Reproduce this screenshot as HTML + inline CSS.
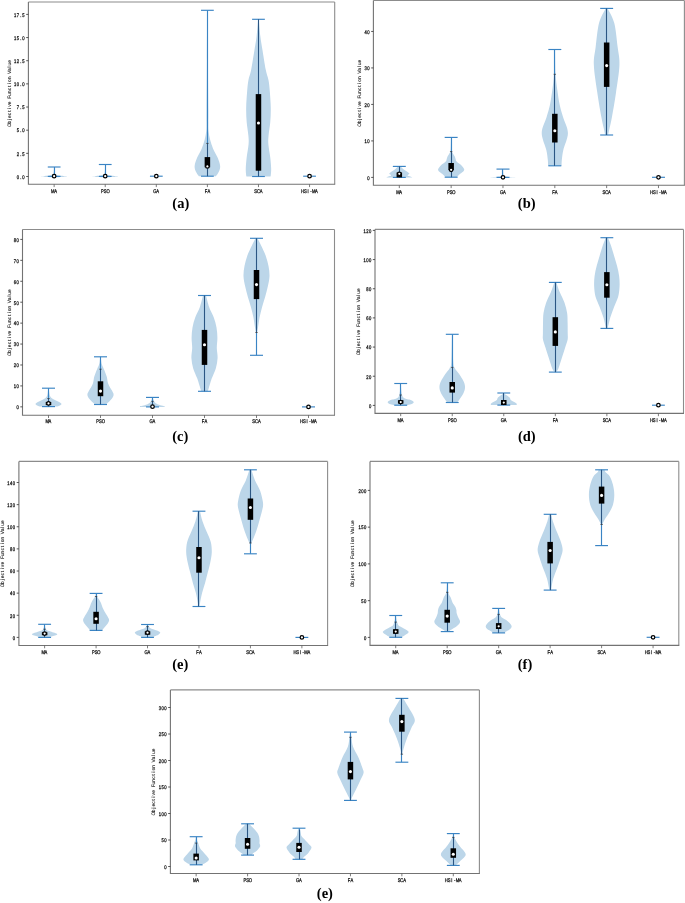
<!DOCTYPE html>
<html><head><meta charset="utf-8"><title>Violin plots</title>
<style>
html,body{margin:0;padding:0;background:#fff;}
body{width:685px;height:903px;overflow:hidden;}
svg{display:block;will-change:transform;}
.tk{text-rendering:geometricPrecision;font-family:"Liberation Sans",sans-serif;font-size:5.3px;fill:#1a1a1a;stroke:#1a1a1a;stroke-width:0.3px;}
.yl{text-rendering:geometricPrecision;font-family:"Liberation Sans",sans-serif;font-size:4.9px;fill:#1a1a1a;stroke:#222;stroke-width:0.12px;}
.pl{font-family:"Liberation Serif",serif;font-weight:bold;font-size:14.5px;fill:#000;}
</style></head>
<body>
<svg width="685" height="903" viewBox="0 0 685 903">
<rect width="685" height="903" fill="#fff"/>
<g id="pa">
<path d="M54.35 167 C54.4 167.83 54.45 170.78 54.65 172 C54.85 173.22 54.97 173.75 55.55 174.3 C56.13 174.85 56.8 175.02 58.15 175.3 C59.5 175.58 62.18 175.8 63.65 176 C65.12 176.2 67.37 176.32 66.95 176.5 C66.53 176.68 62.78 176.97 61.15 177.1 C59.52 177.23 57.82 177.27 57.15 177.3 L51.15 177.3 C50.48 177.27 48.78 177.23 47.15 177.1 C45.52 176.97 41.77 176.68 41.35 176.5 C40.93 176.32 43.18 176.2 44.65 176 C46.12 175.8 48.8 175.58 50.15 175.3 C51.5 175.02 52.17 174.85 52.75 174.3 C53.33 173.75 53.45 173.22 53.65 172 C53.85 170.78 53.9 167.83 53.95 167 Z" fill="#bcd6e9"/>
<path d="M105.43 164.5 C105.46 165.58 105.45 169.37 105.63 171 C105.81 172.63 105.96 173.58 106.53 174.3 C107.1 175.02 107.75 175.02 109.03 175.3 C110.31 175.58 112.73 175.8 114.23 176 C115.73 176.2 118.36 176.32 118.03 176.5 C117.7 176.68 113.86 176.97 112.23 177.1 C110.6 177.23 108.9 177.27 108.23 177.3 L102.23 177.3 C101.56 177.27 99.86 177.23 98.23 177.1 C96.6 176.97 92.76 176.68 92.43 176.5 C92.1 176.32 94.73 176.2 96.23 176 C97.73 175.8 100.15 175.58 101.43 175.3 C102.71 175.02 103.36 175.02 103.93 174.3 C104.5 173.58 104.65 172.63 104.83 171 C105.01 169.37 105 165.58 105.03 164.5 Z" fill="#bcd6e9"/>
<path d="M207.59 10.3 C207.64 18.58 207.77 43.38 207.89 60 C208.01 76.62 208.22 99.67 208.29 110 C208.36 120.33 208.26 118.5 208.29 122 C208.32 125.5 208.17 128 208.49 131 C208.81 134 209.42 137.05 210.19 140 C210.96 142.95 211.86 145.77 213.09 148.7 C214.32 151.63 216.41 154.65 217.59 157.6 C218.77 160.55 220.06 163.9 220.19 166.4 C220.32 168.9 219.04 171.05 218.39 172.6 C217.74 174.15 216.71 175.1 216.29 175.7 C215.87 176.3 215.96 176.12 215.89 176.2 L198.89 176.2 C198.82 176.12 198.91 176.3 198.49 175.7 C198.07 175.1 197.04 174.15 196.39 172.6 C195.74 171.05 194.46 168.9 194.59 166.4 C194.72 163.9 196.01 160.55 197.19 157.6 C198.37 154.65 200.46 151.63 201.69 148.7 C202.92 145.77 203.82 142.95 204.59 140 C205.36 137.05 205.97 134 206.29 131 C206.61 128 206.46 125.5 206.49 122 C206.52 118.5 206.42 120.33 206.49 110 C206.56 99.67 206.77 76.62 206.89 60 C207.01 43.38 207.14 18.58 207.19 10.3 Z" fill="#bcd6e9"/>
<path d="M258.77 19.3 C259.04 22.18 259.75 31.48 260.37 36.6 C260.99 41.72 261.57 44.47 262.47 50 C263.37 55.53 264.77 64.8 265.77 69.8 C266.77 74.8 267.8 76.47 268.47 80 C269.14 83.53 269.39 86.38 269.77 91 C270.15 95.62 270.69 102.53 270.77 107.7 C270.85 112.87 270.64 117.38 270.27 122 C269.9 126.62 268.89 131.68 268.57 135.4 C268.25 139.12 268.09 140.6 268.37 144.3 C268.65 148 269.8 153.53 270.27 157.6 C270.74 161.67 271.09 165.75 271.17 168.7 C271.25 171.65 270.89 174 270.77 175.3 C270.65 176.6 270.52 176.3 270.47 176.5 L246.47 176.5 C246.42 176.3 246.29 176.6 246.17 175.3 C246.05 174 245.69 171.65 245.77 168.7 C245.85 165.75 246.2 161.67 246.67 157.6 C247.14 153.53 248.29 148 248.57 144.3 C248.85 140.6 248.69 139.12 248.37 135.4 C248.05 131.68 247.04 126.62 246.67 122 C246.3 117.38 246.09 112.87 246.17 107.7 C246.25 102.53 246.79 95.62 247.17 91 C247.55 86.38 247.8 83.53 248.47 80 C249.14 76.47 250.17 74.8 251.17 69.8 C252.17 64.8 253.57 55.53 254.47 50 C255.37 44.47 255.95 41.72 256.57 36.6 C257.19 31.48 257.9 22.18 258.17 19.3 Z" fill="#bcd6e9"/>
<line x1="54.5" y1="167" x2="54.5" y2="176.4" stroke="#3a84c4" stroke-width="1.15"/>
<line x1="47.77" y1="167" x2="60.53" y2="167" stroke="#3a84c4" stroke-width="1.15"/>
<line x1="47.77" y1="176.4" x2="60.53" y2="176.4" stroke="#3a84c4" stroke-width="1.15"/>
<circle cx="54.15" cy="176.2" r="1.75" fill="#fff" stroke="#000" stroke-width="1.25"/>
<line x1="105.5" y1="164.5" x2="105.5" y2="176.4" stroke="#3a84c4" stroke-width="1.15"/>
<line x1="98.85" y1="164.5" x2="111.61" y2="164.5" stroke="#3a84c4" stroke-width="1.15"/>
<line x1="98.85" y1="176.4" x2="111.61" y2="176.4" stroke="#3a84c4" stroke-width="1.15"/>
<circle cx="105.23" cy="176.2" r="1.75" fill="#fff" stroke="#000" stroke-width="1.25"/>
<line x1="149.93" y1="176.2" x2="162.69" y2="176.2" stroke="#3a84c4" stroke-width="1.15"/>
<circle cx="156.31" cy="176.2" r="1.75" fill="#fff" stroke="#000" stroke-width="1.25"/>
<line x1="207.5" y1="10.3" x2="207.5" y2="176.2" stroke="#3a84c4" stroke-width="1.15"/>
<line x1="201.01" y1="10.3" x2="213.77" y2="10.3" stroke="#3a84c4" stroke-width="1.15"/>
<line x1="201.01" y1="176.2" x2="213.77" y2="176.2" stroke="#3a84c4" stroke-width="1.15"/>
<line x1="207.5" y1="143.4" x2="207.5" y2="176.2" stroke="#29507a" stroke-width="0.9"/>
<line x1="206.19" y1="143.4" x2="208.59" y2="143.4" stroke="#333" stroke-width="0.7"/>
<rect x="204.64" y="157.1" width="5.5" height="10.2" fill="#000"/>
<circle cx="207.39" cy="166.4" r="1.75" fill="#fff" stroke="#000" stroke-width="1.25"/>
<line x1="258.5" y1="19.3" x2="258.5" y2="176.5" stroke="#3a84c4" stroke-width="1.15"/>
<line x1="252.09" y1="19.3" x2="264.85" y2="19.3" stroke="#3a84c4" stroke-width="1.15"/>
<line x1="252.09" y1="176.5" x2="264.85" y2="176.5" stroke="#3a84c4" stroke-width="1.15"/>
<line x1="258.5" y1="19.3" x2="258.5" y2="176.5" stroke="#29507a" stroke-width="0.9"/>
<rect x="255.72" y="94.1" width="5.5" height="76.6" fill="#000"/>
<circle cx="258.47" cy="123" r="1.55" fill="#fff"/>
<line x1="303.17" y1="176.2" x2="315.93" y2="176.2" stroke="#3a84c4" stroke-width="1.15"/>
<circle cx="309.55" cy="176.2" r="1.75" fill="#fff" stroke="#000" stroke-width="1.25"/>
<path d="M28.4 2H334.7" stroke="#8c8c8c" stroke-width="1.1" fill="none"/>
<path d="M334.7 2V184.3" stroke="#8c8c8c" stroke-width="1.1" fill="none"/>
<path d="M28.4 2V184.3H335.2" stroke="#737373" stroke-width="1.1" fill="none"/>
<line x1="26.2" y1="176.5" x2="28.4" y2="176.5" stroke="#444" stroke-width="0.9"/>
<text class="tk" text-anchor="middle" transform="translate(17.95 178.8) scale(0.78 1)" x="0 3.56 7.13" y="0">0.0</text>
<line x1="26.2" y1="153.34" x2="28.4" y2="153.34" stroke="#444" stroke-width="0.9"/>
<text class="tk" text-anchor="middle" transform="translate(17.95 155.64) scale(0.78 1)" x="0 3.56 7.13" y="0">2.5</text>
<line x1="26.2" y1="130.19" x2="28.4" y2="130.19" stroke="#444" stroke-width="0.9"/>
<text class="tk" text-anchor="middle" transform="translate(17.95 132.49) scale(0.78 1)" x="0 3.56 7.13" y="0">5.0</text>
<line x1="26.2" y1="107.03" x2="28.4" y2="107.03" stroke="#444" stroke-width="0.9"/>
<text class="tk" text-anchor="middle" transform="translate(17.95 109.33) scale(0.78 1)" x="0 3.56 7.13" y="0">7.5</text>
<line x1="26.2" y1="83.87" x2="28.4" y2="83.87" stroke="#444" stroke-width="0.9"/>
<text class="tk" text-anchor="middle" transform="translate(15.17 86.17) scale(0.78 1)" x="0 3.56 7.13 10.69" y="0">10.0</text>
<line x1="26.2" y1="60.71" x2="28.4" y2="60.71" stroke="#444" stroke-width="0.9"/>
<text class="tk" text-anchor="middle" transform="translate(15.17 63.01) scale(0.78 1)" x="0 3.56 7.13 10.69" y="0">12.5</text>
<line x1="26.2" y1="37.56" x2="28.4" y2="37.56" stroke="#444" stroke-width="0.9"/>
<text class="tk" text-anchor="middle" transform="translate(15.17 39.86) scale(0.78 1)" x="0 3.56 7.13 10.69" y="0">15.0</text>
<line x1="26.2" y1="14.4" x2="28.4" y2="14.4" stroke="#444" stroke-width="0.9"/>
<text class="tk" text-anchor="middle" transform="translate(15.17 16.7) scale(0.78 1)" x="0 3.56 7.13 10.69" y="0">17.5</text>
<line x1="54.15" y1="184.3" x2="54.15" y2="187.1" stroke="#5a5a5a" stroke-width="0.8"/>
<text class="tk" text-anchor="middle" transform="translate(52.76 192.5) scale(0.78 1)" x="0 3.56" y="0">MA</text>
<line x1="105.23" y1="184.3" x2="105.23" y2="187.1" stroke="#5a5a5a" stroke-width="0.8"/>
<text class="tk" text-anchor="middle" transform="translate(102.45 192.5) scale(0.78 1)" x="0 3.56 7.13" y="0">PSO</text>
<line x1="156.31" y1="184.3" x2="156.31" y2="187.1" stroke="#5a5a5a" stroke-width="0.8"/>
<text class="tk" text-anchor="middle" transform="translate(154.92 192.5) scale(0.78 1)" x="0 3.56" y="0">GA</text>
<line x1="207.39" y1="184.3" x2="207.39" y2="187.1" stroke="#5a5a5a" stroke-width="0.8"/>
<text class="tk" text-anchor="middle" transform="translate(206 192.5) scale(0.78 1)" x="0 3.56" y="0">FA</text>
<line x1="258.47" y1="184.3" x2="258.47" y2="187.1" stroke="#5a5a5a" stroke-width="0.8"/>
<text class="tk" text-anchor="middle" transform="translate(255.69 192.5) scale(0.78 1)" x="0 3.56 7.13" y="0">SCA</text>
<line x1="309.55" y1="184.3" x2="309.55" y2="187.1" stroke="#5a5a5a" stroke-width="0.8"/>
<text class="tk" text-anchor="middle" transform="translate(302.6 192.5) scale(0.78 1)" x="0 3.56 7.13 10.69 14.26 17.82" y="0">HSI-MA</text>
<g transform="translate(10.9 93.15) rotate(-90)">
<text class="yl" text-anchor="middle" transform="translate(-31.86 0) scale(1 1)" x="0 2.77 5.54 8.31 11.08 13.85 16.62 19.39 22.16 27.7 30.47 33.24 36.01 38.78 41.55 44.32 47.09 52.63 55.4 58.17 60.94 63.71" y="0">ObjectiveFunctionValue</text>
</g>
<text x="180.8" y="208.3" class="pl" text-anchor="middle">(a)</text>
</g>
<g id="pb">
<path d="M399.82 166.4 C399.98 166.45 400.15 166.17 400.82 166.7 C401.48 167.23 402.58 168.63 403.82 169.6 C405.05 170.57 407.3 171.82 408.22 172.5 C409.13 173.18 409.43 173.22 409.32 173.7 C409.2 174.18 407.35 174.93 407.52 175.4 C407.68 175.87 409.52 176.17 410.32 176.5 C411.12 176.83 411.98 177.25 412.32 177.4 L386.32 177.4 C386.65 177.25 387.52 176.83 388.32 176.5 C389.12 176.17 390.95 175.87 391.12 175.4 C391.28 174.93 389.43 174.18 389.32 173.7 C389.2 173.22 389.5 173.18 390.42 172.5 C391.33 171.82 393.58 170.57 394.82 169.6 C396.05 168.63 397.15 167.23 397.82 166.7 C398.48 166.17 398.65 166.45 398.82 166.4 Z" fill="#bcd6e9"/>
<path d="M451.35 137.4 C451.38 138.67 451.45 142.63 451.55 145 C451.65 147.37 451.72 150.2 451.95 151.6 C452.18 153 452.5 152.62 452.95 153.4 C453.4 154.18 454.2 155.33 454.65 156.3 C455.1 157.27 455.4 158.42 455.65 159.2 C455.9 159.98 455.65 160.32 456.15 161 C456.65 161.68 457.83 162.63 458.65 163.3 C459.47 163.97 460.3 164.32 461.05 165 C461.8 165.68 462.62 166.62 463.15 167.4 C463.68 168.18 464.33 168.93 464.25 169.7 C464.17 170.47 463.47 171.22 462.65 172 C461.83 172.78 460.33 173.52 459.35 174.4 C458.37 175.28 457.18 176.82 456.75 177.3 L445.55 177.3 C445.12 176.82 443.93 175.28 442.95 174.4 C441.97 173.52 440.47 172.78 439.65 172 C438.83 171.22 438.13 170.47 438.05 169.7 C437.97 168.93 438.62 168.18 439.15 167.4 C439.68 166.62 440.5 165.68 441.25 165 C442 164.32 442.83 163.97 443.65 163.3 C444.47 162.63 445.65 161.68 446.15 161 C446.65 160.32 446.4 159.98 446.65 159.2 C446.9 158.42 447.2 157.27 447.65 156.3 C448.1 155.33 448.9 154.18 449.35 153.4 C449.8 152.62 450.12 153 450.35 151.6 C450.58 150.2 450.65 147.37 450.75 145 C450.85 142.63 450.92 138.67 450.95 137.4 Z" fill="#bcd6e9"/>
<path d="M503.18 169.1 C503.25 170 503.2 173.3 503.58 174.5 C503.97 175.7 503.45 175.82 505.48 176.3 C507.52 176.78 514.07 177.22 515.78 177.4 L490.18 177.4 C491.9 177.22 498.45 176.78 500.48 176.3 C502.52 175.82 502 175.7 502.38 174.5 C502.77 173.3 502.72 170 502.78 169.1 Z" fill="#bcd6e9"/>
<path d="M555.12 49.5 C555.2 53.63 555.25 67.55 555.62 74.3 C555.98 81.05 556.63 84.88 557.32 90 C558 95.12 558.77 100.5 559.72 105 C560.67 109.5 561.65 112.33 563.02 117 C564.38 121.67 567.87 127.5 567.92 133 C567.97 138.5 564.33 145.5 563.32 150 C562.3 154.5 562.1 157.37 561.82 160 C561.53 162.63 561.65 164.83 561.62 165.8 L548.02 165.8 C547.98 164.83 548.1 162.63 547.82 160 C547.53 157.37 547.33 154.5 546.32 150 C545.3 145.5 541.67 138.5 541.72 133 C541.77 127.5 545.25 121.67 546.62 117 C547.98 112.33 548.97 109.5 549.92 105 C550.87 100.5 551.63 95.12 552.32 90 C553 84.88 553.65 81.05 554.02 74.3 C554.38 67.55 554.43 53.63 554.52 49.5 Z" fill="#bcd6e9"/>
<path d="M607.65 8.4 C608.75 10.83 612.58 16.57 614.25 23 C615.92 29.43 616.78 40 617.65 47 C618.52 54 619.73 57.33 619.45 65 C619.17 72.67 617.2 84.33 615.95 93 C614.7 101.67 613.08 110.83 611.95 117 C610.82 123.17 609.78 127 609.15 130 C608.52 133 608.32 134.17 608.15 135 L605.15 135 C604.98 134.17 604.78 133 604.15 130 C603.52 127 602.48 123.17 601.35 117 C600.22 110.83 598.6 101.67 597.35 93 C596.1 84.33 594.13 72.67 593.85 65 C593.57 57.33 594.78 54 595.65 47 C596.52 40 597.38 29.43 599.05 23 C600.72 16.57 604.55 10.83 605.65 8.4 Z" fill="#bcd6e9"/>
<line x1="399.5" y1="166.4" x2="399.5" y2="177.4" stroke="#3a84c4" stroke-width="1.15"/>
<line x1="392.84" y1="166.4" x2="405.8" y2="166.4" stroke="#3a84c4" stroke-width="1.15"/>
<line x1="392.84" y1="177.4" x2="405.8" y2="177.4" stroke="#3a84c4" stroke-width="1.15"/>
<line x1="399.5" y1="166.4" x2="399.5" y2="177.4" stroke="#29507a" stroke-width="0.9"/>
<rect x="396.57" y="172.5" width="5.5" height="4.9" fill="#000"/>
<circle cx="399.32" cy="173.8" r="1.75" fill="#fff" stroke="#000" stroke-width="1.25"/>
<line x1="451.5" y1="137.4" x2="451.5" y2="177.2" stroke="#3a84c4" stroke-width="1.15"/>
<line x1="444.67" y1="137.4" x2="457.63" y2="137.4" stroke="#3a84c4" stroke-width="1.15"/>
<line x1="444.67" y1="177.2" x2="457.63" y2="177.2" stroke="#3a84c4" stroke-width="1.15"/>
<line x1="451.5" y1="151.6" x2="451.5" y2="177.2" stroke="#29507a" stroke-width="0.9"/>
<line x1="449.95" y1="151.6" x2="452.35" y2="151.6" stroke="#333" stroke-width="0.7"/>
<rect x="448.4" y="163" width="5.5" height="7.2" fill="#000"/>
<circle cx="451.15" cy="169.8" r="1.75" fill="#fff" stroke="#000" stroke-width="1.25"/>
<line x1="502.5" y1="169.1" x2="502.5" y2="177.4" stroke="#3a84c4" stroke-width="1.15"/>
<line x1="496.5" y1="169.1" x2="509.46" y2="169.1" stroke="#3a84c4" stroke-width="1.15"/>
<line x1="496.5" y1="177.4" x2="509.46" y2="177.4" stroke="#3a84c4" stroke-width="1.15"/>
<circle cx="502.98" cy="177.3" r="1.75" fill="#fff" stroke="#000" stroke-width="1.25"/>
<line x1="554.5" y1="49.5" x2="554.5" y2="165.8" stroke="#3a84c4" stroke-width="1.15"/>
<line x1="548.34" y1="49.5" x2="561.3" y2="49.5" stroke="#3a84c4" stroke-width="1.15"/>
<line x1="548.34" y1="165.8" x2="561.3" y2="165.8" stroke="#3a84c4" stroke-width="1.15"/>
<line x1="554.5" y1="74.3" x2="554.5" y2="165.8" stroke="#29507a" stroke-width="0.9"/>
<line x1="553.62" y1="74.3" x2="556.02" y2="74.3" stroke="#333" stroke-width="0.7"/>
<rect x="552.07" y="113.8" width="5.5" height="28.7" fill="#000"/>
<circle cx="554.82" cy="130.8" r="1.55" fill="#fff"/>
<line x1="606.5" y1="8.4" x2="606.5" y2="135" stroke="#3a84c4" stroke-width="1.15"/>
<line x1="600.17" y1="8.4" x2="613.13" y2="8.4" stroke="#3a84c4" stroke-width="1.15"/>
<line x1="600.17" y1="135" x2="613.13" y2="135" stroke="#3a84c4" stroke-width="1.15"/>
<line x1="606.5" y1="8.4" x2="606.5" y2="135" stroke="#29507a" stroke-width="0.9"/>
<rect x="603.9" y="42.5" width="5.5" height="44.4" fill="#000"/>
<circle cx="606.65" cy="65.6" r="1.55" fill="#fff"/>
<line x1="652" y1="177.3" x2="664.96" y2="177.3" stroke="#3a84c4" stroke-width="1.15"/>
<circle cx="658.48" cy="177.3" r="1.75" fill="#fff" stroke="#000" stroke-width="1.25"/>
<path d="M373.4 0.5H684.4" stroke="#8c8c8c" stroke-width="1.1" fill="none"/>
<path d="M684.4 0.5V185.3" stroke="#8c8c8c" stroke-width="1.1" fill="none"/>
<path d="M373.4 0.5V185.3H684.9" stroke="#737373" stroke-width="1.1" fill="none"/>
<line x1="371.2" y1="177.4" x2="373.4" y2="177.4" stroke="#444" stroke-width="0.9"/>
<text class="tk" text-anchor="middle" transform="translate(368.51 179.7) scale(0.78 1)" x="0" y="0">0</text>
<line x1="371.2" y1="140.91" x2="373.4" y2="140.91" stroke="#444" stroke-width="0.9"/>
<text class="tk" text-anchor="middle" transform="translate(365.73 143.21) scale(0.78 1)" x="0 3.56" y="0">10</text>
<line x1="371.2" y1="104.42" x2="373.4" y2="104.42" stroke="#444" stroke-width="0.9"/>
<text class="tk" text-anchor="middle" transform="translate(365.73 106.72) scale(0.78 1)" x="0 3.56" y="0">20</text>
<line x1="371.2" y1="67.93" x2="373.4" y2="67.93" stroke="#444" stroke-width="0.9"/>
<text class="tk" text-anchor="middle" transform="translate(365.73 70.23) scale(0.78 1)" x="0 3.56" y="0">30</text>
<line x1="371.2" y1="31.44" x2="373.4" y2="31.44" stroke="#444" stroke-width="0.9"/>
<text class="tk" text-anchor="middle" transform="translate(365.73 33.74) scale(0.78 1)" x="0 3.56" y="0">40</text>
<line x1="399.32" y1="185.3" x2="399.32" y2="188.1" stroke="#5a5a5a" stroke-width="0.8"/>
<text class="tk" text-anchor="middle" transform="translate(397.93 193.5) scale(0.78 1)" x="0 3.56" y="0">MA</text>
<line x1="451.15" y1="185.3" x2="451.15" y2="188.1" stroke="#5a5a5a" stroke-width="0.8"/>
<text class="tk" text-anchor="middle" transform="translate(448.37 193.5) scale(0.78 1)" x="0 3.56 7.13" y="0">PSO</text>
<line x1="502.98" y1="185.3" x2="502.98" y2="188.1" stroke="#5a5a5a" stroke-width="0.8"/>
<text class="tk" text-anchor="middle" transform="translate(501.59 193.5) scale(0.78 1)" x="0 3.56" y="0">GA</text>
<line x1="554.82" y1="185.3" x2="554.82" y2="188.1" stroke="#5a5a5a" stroke-width="0.8"/>
<text class="tk" text-anchor="middle" transform="translate(553.43 193.5) scale(0.78 1)" x="0 3.56" y="0">FA</text>
<line x1="606.65" y1="185.3" x2="606.65" y2="188.1" stroke="#5a5a5a" stroke-width="0.8"/>
<text class="tk" text-anchor="middle" transform="translate(603.87 193.5) scale(0.78 1)" x="0 3.56 7.13" y="0">SCA</text>
<line x1="658.48" y1="185.3" x2="658.48" y2="188.1" stroke="#5a5a5a" stroke-width="0.8"/>
<text class="tk" text-anchor="middle" transform="translate(651.53 193.5) scale(0.78 1)" x="0 3.56 7.13 10.69 14.26 17.82" y="0">HSI-MA</text>
<g transform="translate(360.7 92.9) rotate(-90)">
<text class="yl" text-anchor="middle" transform="translate(-31.86 0) scale(1 1)" x="0 2.77 5.54 8.31 11.08 13.85 16.62 19.39 22.16 27.7 30.47 33.24 36.01 38.78 41.55 44.32 47.09 52.63 55.4 58.17 60.94 63.71" y="0">ObjectiveFunctionValue</text>
</g>
<text x="526.7" y="207.9" class="pl" text-anchor="middle">(b)</text>
</g>
<g id="pc">
<path d="M48.8 388.2 C48.88 389 49.12 391.75 49.3 393 C49.48 394.25 49.53 394.87 49.9 395.7 C50.27 396.53 50.83 397.38 51.5 398 C52.17 398.62 52.98 398.9 53.9 399.4 C54.82 399.9 55.98 400.48 57 401 C58.02 401.52 59.25 401.98 60 402.5 C60.75 403.02 61.5 403.6 61.5 404.1 C61.5 404.6 60.83 405.08 60 405.5 C59.17 405.92 57.08 406.42 56.5 406.6 L40.5 406.6 C39.92 406.42 37.83 405.92 37 405.5 C36.17 405.08 35.5 404.6 35.5 404.1 C35.5 403.6 36.25 403.02 37 402.5 C37.75 401.98 38.98 401.52 40 401 C41.02 400.48 42.18 399.9 43.1 399.4 C44.02 398.9 44.83 398.62 45.5 398 C46.17 397.38 46.73 396.53 47.1 395.7 C47.47 394.87 47.52 394.25 47.7 393 C47.88 391.75 48.12 389 48.2 388.2 Z" fill="#bcd6e9"/>
<path d="M100.8 356.8 C100.88 357.67 101.1 360.67 101.3 362 C101.5 363.33 101.57 363.6 102 364.8 C102.43 366 103.12 367.25 103.9 369.2 C104.68 371.15 105.98 374.07 106.7 376.5 C107.42 378.93 107.28 381.37 108.2 383.8 C109.12 386.23 111.3 389.28 112.2 391.1 C113.1 392.92 113.63 393.48 113.6 394.7 C113.57 395.92 112.97 397.05 112 398.4 C111.03 399.75 108.88 401.78 107.8 402.8 C106.72 403.82 105.88 404.22 105.5 404.5 L95.5 404.5 C95.12 404.22 94.28 403.82 93.2 402.8 C92.12 401.78 89.97 399.75 89 398.4 C88.03 397.05 87.43 395.92 87.4 394.7 C87.37 393.48 87.9 392.92 88.8 391.1 C89.7 389.28 91.88 386.23 92.8 383.8 C93.72 381.37 93.58 378.93 94.3 376.5 C95.02 374.07 96.32 371.15 97.1 369.2 C97.88 367.25 98.57 366 99 364.8 C99.43 363.6 99.5 363.33 99.7 362 C99.9 360.67 100.12 357.67 100.2 356.8 Z" fill="#bcd6e9"/>
<path d="M152.8 397.4 C152.92 397.82 153.13 399.05 153.5 399.9 C153.87 400.75 154.42 401.83 155 402.5 C155.58 403.17 155.93 403.42 157 403.9 C158.07 404.38 160.03 404.98 161.4 405.4 C162.77 405.82 165.02 406.15 165.2 406.4 C165.38 406.65 162.95 406.82 162.5 406.9 L142.5 406.9 C142.05 406.82 139.62 406.65 139.8 406.4 C139.98 406.15 142.23 405.82 143.6 405.4 C144.97 404.98 146.93 404.38 148 403.9 C149.07 403.42 149.42 403.17 150 402.5 C150.58 401.83 151.13 400.75 151.5 399.9 C151.87 399.05 152.08 397.82 152.2 397.4 Z" fill="#bcd6e9"/>
<path d="M206 295.5 C206.52 297.4 207.82 303.28 209.1 306.9 C210.38 310.52 212.47 313.78 213.7 317.2 C214.93 320.62 215.88 323.98 216.5 327.4 C217.12 330.82 217.35 334.28 217.4 337.7 C217.45 341.12 216.77 344.5 216.8 347.9 C216.83 351.3 217.77 354.68 217.6 358.1 C217.43 361.52 216.78 364.98 215.8 368.4 C214.82 371.82 212.92 375.18 211.7 378.6 C210.48 382.02 209.2 386.78 208.5 388.9 C207.8 391.02 207.67 390.9 207.5 391.3 L201.5 391.3 C201.33 390.9 201.2 391.02 200.5 388.9 C199.8 386.78 198.52 382.02 197.3 378.6 C196.08 375.18 194.18 371.82 193.2 368.4 C192.22 364.98 191.57 361.52 191.4 358.1 C191.23 354.68 192.17 351.3 192.2 347.9 C192.23 344.5 191.55 341.12 191.6 337.7 C191.65 334.28 191.88 330.82 192.5 327.4 C193.12 323.98 194.07 320.62 195.3 317.2 C196.53 313.78 198.62 310.52 199.9 306.9 C201.18 303.28 202.48 297.4 203 295.5 Z" fill="#bcd6e9"/>
<path d="M257.5 238.3 C258.1 239.5 259.73 242.6 261.1 245.5 C262.47 248.4 264.47 252.28 265.7 255.7 C266.93 259.12 267.87 262.58 268.5 266 C269.13 269.42 269.62 272.78 269.5 276.2 C269.38 279.62 268.52 283.08 267.8 286.5 C267.08 289.92 266.15 293.3 265.2 296.7 C264.25 300.1 263.03 303.48 262.1 306.9 C261.17 310.32 260.28 313.78 259.6 317.2 C258.92 320.62 258.43 324.85 258 327.4 C257.57 329.95 257.17 331.65 257 332.5 L256 332.5 C255.83 331.65 255.43 329.95 255 327.4 C254.57 324.85 254.08 320.62 253.4 317.2 C252.72 313.78 251.83 310.32 250.9 306.9 C249.97 303.48 248.75 300.1 247.8 296.7 C246.85 293.3 245.92 289.92 245.2 286.5 C244.48 283.08 243.62 279.62 243.5 276.2 C243.38 272.78 243.87 269.42 244.5 266 C245.13 262.58 246.07 259.12 247.3 255.7 C248.53 252.28 250.53 248.4 251.9 245.5 C253.27 242.6 254.9 239.5 255.5 238.3 Z" fill="#bcd6e9"/>
<line x1="48.5" y1="388.2" x2="48.5" y2="406.6" stroke="#3a84c4" stroke-width="1.15"/>
<line x1="42" y1="388.2" x2="55" y2="388.2" stroke="#3a84c4" stroke-width="1.15"/>
<line x1="42" y1="406.6" x2="55" y2="406.6" stroke="#3a84c4" stroke-width="1.15"/>
<line x1="48.5" y1="398.5" x2="48.5" y2="406.6" stroke="#29507a" stroke-width="0.9"/>
<line x1="47.3" y1="398.5" x2="49.7" y2="398.5" stroke="#333" stroke-width="0.7"/>
<rect x="45.75" y="402" width="5.5" height="3.1" fill="#000"/>
<circle cx="48.5" cy="403.4" r="1.75" fill="#fff" stroke="#000" stroke-width="1.25"/>
<line x1="100.5" y1="356.8" x2="100.5" y2="404.5" stroke="#3a84c4" stroke-width="1.15"/>
<line x1="94" y1="356.8" x2="107" y2="356.8" stroke="#3a84c4" stroke-width="1.15"/>
<line x1="94" y1="404.5" x2="107" y2="404.5" stroke="#3a84c4" stroke-width="1.15"/>
<line x1="100.5" y1="369.2" x2="100.5" y2="404.5" stroke="#29507a" stroke-width="0.9"/>
<line x1="99.3" y1="369.2" x2="101.7" y2="369.2" stroke="#333" stroke-width="0.7"/>
<rect x="97.75" y="381.3" width="5.5" height="14.9" fill="#000"/>
<circle cx="100.5" cy="391.1" r="1.55" fill="#fff"/>
<line x1="152.5" y1="397.4" x2="152.5" y2="406.9" stroke="#3a84c4" stroke-width="1.15"/>
<line x1="146" y1="397.4" x2="159" y2="397.4" stroke="#3a84c4" stroke-width="1.15"/>
<line x1="146" y1="406.9" x2="159" y2="406.9" stroke="#3a84c4" stroke-width="1.15"/>
<line x1="152.5" y1="401.4" x2="152.5" y2="406.9" stroke="#29507a" stroke-width="0.9"/>
<line x1="151.3" y1="401.4" x2="153.7" y2="401.4" stroke="#333" stroke-width="0.7"/>
<circle cx="152.5" cy="406.7" r="1.75" fill="#fff" stroke="#000" stroke-width="1.25"/>
<line x1="204.5" y1="295.5" x2="204.5" y2="391.3" stroke="#3a84c4" stroke-width="1.15"/>
<line x1="198" y1="295.5" x2="211" y2="295.5" stroke="#3a84c4" stroke-width="1.15"/>
<line x1="198" y1="391.3" x2="211" y2="391.3" stroke="#3a84c4" stroke-width="1.15"/>
<line x1="204.5" y1="295.5" x2="204.5" y2="391.3" stroke="#29507a" stroke-width="0.9"/>
<rect x="201.75" y="329.9" width="5.5" height="35" fill="#000"/>
<circle cx="204.5" cy="344.8" r="1.55" fill="#fff"/>
<line x1="256.5" y1="238.3" x2="256.5" y2="355.3" stroke="#3a84c4" stroke-width="1.15"/>
<line x1="250" y1="238.3" x2="263" y2="238.3" stroke="#3a84c4" stroke-width="1.15"/>
<line x1="250" y1="355.3" x2="263" y2="355.3" stroke="#3a84c4" stroke-width="1.15"/>
<line x1="256.5" y1="238.3" x2="256.5" y2="332.5" stroke="#29507a" stroke-width="0.9"/>
<line x1="255.3" y1="332.5" x2="257.7" y2="332.5" stroke="#333" stroke-width="0.7"/>
<rect x="253.75" y="270" width="5.5" height="29.1" fill="#000"/>
<circle cx="256.5" cy="284.6" r="1.55" fill="#fff"/>
<line x1="302" y1="406.9" x2="315" y2="406.9" stroke="#3a84c4" stroke-width="1.15"/>
<circle cx="308.5" cy="406.9" r="1.75" fill="#fff" stroke="#000" stroke-width="1.25"/>
<path d="M22.5 229.5H334.5" stroke="#8c8c8c" stroke-width="1.1" fill="none"/>
<path d="M334.5 229.5V415.2" stroke="#8c8c8c" stroke-width="1.1" fill="none"/>
<path d="M22.5 229.5V415.2H335" stroke="#737373" stroke-width="1.1" fill="none"/>
<line x1="20.3" y1="406.85" x2="22.5" y2="406.85" stroke="#444" stroke-width="0.9"/>
<text class="tk" text-anchor="middle" transform="translate(17.61 409.15) scale(0.78 1)" x="0" y="0">0</text>
<line x1="20.3" y1="385.92" x2="22.5" y2="385.92" stroke="#444" stroke-width="0.9"/>
<text class="tk" text-anchor="middle" transform="translate(14.83 388.22) scale(0.78 1)" x="0 3.56" y="0">10</text>
<line x1="20.3" y1="364.99" x2="22.5" y2="364.99" stroke="#444" stroke-width="0.9"/>
<text class="tk" text-anchor="middle" transform="translate(14.83 367.29) scale(0.78 1)" x="0 3.56" y="0">20</text>
<line x1="20.3" y1="344.06" x2="22.5" y2="344.06" stroke="#444" stroke-width="0.9"/>
<text class="tk" text-anchor="middle" transform="translate(14.83 346.36) scale(0.78 1)" x="0 3.56" y="0">30</text>
<line x1="20.3" y1="323.13" x2="22.5" y2="323.13" stroke="#444" stroke-width="0.9"/>
<text class="tk" text-anchor="middle" transform="translate(14.83 325.43) scale(0.78 1)" x="0 3.56" y="0">40</text>
<line x1="20.3" y1="302.2" x2="22.5" y2="302.2" stroke="#444" stroke-width="0.9"/>
<text class="tk" text-anchor="middle" transform="translate(14.83 304.5) scale(0.78 1)" x="0 3.56" y="0">50</text>
<line x1="20.3" y1="281.27" x2="22.5" y2="281.27" stroke="#444" stroke-width="0.9"/>
<text class="tk" text-anchor="middle" transform="translate(14.83 283.57) scale(0.78 1)" x="0 3.56" y="0">60</text>
<line x1="20.3" y1="260.34" x2="22.5" y2="260.34" stroke="#444" stroke-width="0.9"/>
<text class="tk" text-anchor="middle" transform="translate(14.83 262.64) scale(0.78 1)" x="0 3.56" y="0">70</text>
<line x1="20.3" y1="239.41" x2="22.5" y2="239.41" stroke="#444" stroke-width="0.9"/>
<text class="tk" text-anchor="middle" transform="translate(14.83 241.71) scale(0.78 1)" x="0 3.56" y="0">80</text>
<line x1="48.5" y1="415.2" x2="48.5" y2="418" stroke="#5a5a5a" stroke-width="0.8"/>
<text class="tk" text-anchor="middle" transform="translate(47.11 423.4) scale(0.78 1)" x="0 3.56" y="0">MA</text>
<line x1="100.5" y1="415.2" x2="100.5" y2="418" stroke="#5a5a5a" stroke-width="0.8"/>
<text class="tk" text-anchor="middle" transform="translate(97.72 423.4) scale(0.78 1)" x="0 3.56 7.13" y="0">PSO</text>
<line x1="152.5" y1="415.2" x2="152.5" y2="418" stroke="#5a5a5a" stroke-width="0.8"/>
<text class="tk" text-anchor="middle" transform="translate(151.11 423.4) scale(0.78 1)" x="0 3.56" y="0">GA</text>
<line x1="204.5" y1="415.2" x2="204.5" y2="418" stroke="#5a5a5a" stroke-width="0.8"/>
<text class="tk" text-anchor="middle" transform="translate(203.11 423.4) scale(0.78 1)" x="0 3.56" y="0">FA</text>
<line x1="256.5" y1="415.2" x2="256.5" y2="418" stroke="#5a5a5a" stroke-width="0.8"/>
<text class="tk" text-anchor="middle" transform="translate(253.72 423.4) scale(0.78 1)" x="0 3.56 7.13" y="0">SCA</text>
<line x1="308.5" y1="415.2" x2="308.5" y2="418" stroke="#5a5a5a" stroke-width="0.8"/>
<text class="tk" text-anchor="middle" transform="translate(301.55 423.4) scale(0.78 1)" x="0 3.56 7.13 10.69 14.26 17.82" y="0">HSI-MA</text>
<g transform="translate(11 322.35) rotate(-90)">
<text class="yl" text-anchor="middle" transform="translate(-31.86 0) scale(1 1)" x="0 2.77 5.54 8.31 11.08 13.85 16.62 19.39 22.16 27.7 30.47 33.24 36.01 38.78 41.55 44.32 47.09 52.63 55.4 58.17 60.94 63.71" y="0">ObjectiveFunctionValue</text>
</g>
<text x="180.3" y="441" class="pl" text-anchor="middle">(c)</text>
</g>
<g id="pd">
<path d="M401 383.5 C401.05 384.58 401.1 388.02 401.3 390 C401.5 391.98 401.8 394.1 402.2 395.4 C402.6 396.7 403.13 397.25 403.7 397.8 C404.27 398.35 404.68 398.4 405.6 398.7 C406.52 399 408.1 399.25 409.2 399.6 C410.3 399.95 411.45 400.33 412.2 400.8 C412.95 401.27 413.9 401.82 413.7 402.4 C413.5 402.98 412.08 403.82 411 404.3 C409.92 404.78 407.83 405.13 407.2 405.3 L394.2 405.3 C393.57 405.13 391.48 404.78 390.4 404.3 C389.32 403.82 387.9 402.98 387.7 402.4 C387.5 401.82 388.45 401.27 389.2 400.8 C389.95 400.33 391.1 399.95 392.2 399.6 C393.3 399.25 394.88 399 395.8 398.7 C396.72 398.4 397.13 398.35 397.7 397.8 C398.27 397.25 398.8 396.7 399.2 395.4 C399.6 394.1 399.9 391.98 400.1 390 C400.3 388.02 400.35 384.58 400.4 383.5 Z" fill="#bcd6e9"/>
<path d="M452.54 334.3 C452.66 338.97 452.86 356.65 453.24 362.3 C453.62 367.95 453.86 366.25 454.84 368.2 C455.82 370.15 457.69 371.82 459.14 374 C460.59 376.18 462.56 379.1 463.54 381.3 C464.52 383.5 465.04 385.25 465.04 387.2 C465.04 389.15 464.39 391.07 463.54 393 C462.69 394.93 460.99 397.22 459.94 398.8 C458.89 400.38 457.69 401.88 457.24 402.5 L447.24 402.5 C446.79 401.88 445.59 400.38 444.54 398.8 C443.49 397.22 441.79 394.93 440.94 393 C440.09 391.07 439.44 389.15 439.44 387.2 C439.44 385.25 439.96 383.5 440.94 381.3 C441.92 379.1 443.89 376.18 445.34 374 C446.79 371.82 448.66 370.15 449.64 368.2 C450.62 366.25 450.86 367.95 451.24 362.3 C451.62 356.65 451.82 338.97 451.94 334.3 Z" fill="#bcd6e9"/>
<path d="M504.08 393 C504.28 393.25 504.36 393.77 505.28 394.5 C506.2 395.23 508.61 396.43 509.58 397.4 C510.55 398.37 509.98 399.33 511.08 400.3 C512.18 401.27 515.25 402.47 516.18 403.2 C517.11 403.93 516.91 404.38 516.68 404.7 C516.45 405.02 515.1 405.03 514.78 405.1 L492.78 405.1 C492.46 405.03 491.11 405.02 490.88 404.7 C490.65 404.38 490.45 403.93 491.38 403.2 C492.31 402.47 495.38 401.27 496.48 400.3 C497.58 399.33 497.01 398.37 497.98 397.4 C498.95 396.43 501.36 395.23 502.28 394.5 C503.2 393.77 503.28 393.25 503.48 393 Z" fill="#bcd6e9"/>
<path d="M556.32 282.4 C556.92 284.1 558.55 289.2 559.92 292.6 C561.29 296 563.32 299.38 564.52 302.8 C565.72 306.22 566.6 309.68 567.12 313.1 C567.64 316.52 567.52 319.88 567.62 323.3 C567.72 326.72 567.72 330.87 567.72 333.6 C567.72 336.33 568.07 337.32 567.62 339.7 C567.17 342.08 565.99 344.83 565.02 347.9 C564.05 350.97 562.92 354.68 561.82 358.1 C560.72 361.52 559.42 366.07 558.42 368.4 C557.42 370.73 556.25 371.48 555.82 372.1 L554.82 372.1 C554.39 371.48 553.22 370.73 552.22 368.4 C551.22 366.07 549.92 361.52 548.82 358.1 C547.72 354.68 546.59 350.97 545.62 347.9 C544.65 344.83 543.47 342.08 543.02 339.7 C542.57 337.32 542.92 336.33 542.92 333.6 C542.92 330.87 542.92 326.72 543.02 323.3 C543.12 319.88 543 316.52 543.52 313.1 C544.04 309.68 544.92 306.22 546.12 302.8 C547.32 299.38 549.35 296 550.72 292.6 C552.09 289.2 553.72 284.1 554.32 282.4 Z" fill="#bcd6e9"/>
<path d="M607.86 237.7 C608.38 239 609.93 242.5 610.96 245.5 C611.99 248.5 613.04 252.28 614.06 255.7 C615.08 259.12 616.21 262.58 617.06 266 C617.91 269.42 618.74 272.78 619.16 276.2 C619.58 279.62 619.73 283.08 619.56 286.5 C619.39 289.92 619.08 293.3 618.16 296.7 C617.24 300.1 615.36 303.48 614.06 306.9 C612.76 310.32 611.39 313.78 610.36 317.2 C609.33 320.62 608.33 325.53 607.86 327.4 C607.39 329.27 607.61 328.23 607.56 328.4 L606.16 328.4 C606.11 328.23 606.33 329.27 605.86 327.4 C605.39 325.53 604.39 320.62 603.36 317.2 C602.33 313.78 600.96 310.32 599.66 306.9 C598.36 303.48 596.48 300.1 595.56 296.7 C594.64 293.3 594.33 289.92 594.16 286.5 C593.99 283.08 594.14 279.62 594.56 276.2 C594.98 272.78 595.81 269.42 596.66 266 C597.51 262.58 598.64 259.12 599.66 255.7 C600.68 252.28 601.73 248.5 602.76 245.5 C603.79 242.5 605.34 239 605.86 237.7 Z" fill="#bcd6e9"/>
<line x1="400.5" y1="383.5" x2="400.5" y2="405.2" stroke="#3a84c4" stroke-width="1.15"/>
<line x1="394.27" y1="383.5" x2="407.13" y2="383.5" stroke="#3a84c4" stroke-width="1.15"/>
<line x1="394.27" y1="405.2" x2="407.13" y2="405.2" stroke="#3a84c4" stroke-width="1.15"/>
<line x1="400.5" y1="395" x2="400.5" y2="405.2" stroke="#29507a" stroke-width="0.9"/>
<line x1="399.5" y1="395" x2="401.9" y2="395" stroke="#333" stroke-width="0.7"/>
<rect x="397.95" y="400.2" width="5.5" height="3.4" fill="#000"/>
<circle cx="400.7" cy="402" r="1.75" fill="#fff" stroke="#000" stroke-width="1.25"/>
<line x1="452.5" y1="334.3" x2="452.5" y2="402.5" stroke="#3a84c4" stroke-width="1.15"/>
<line x1="445.81" y1="334.3" x2="458.67" y2="334.3" stroke="#3a84c4" stroke-width="1.15"/>
<line x1="445.81" y1="402.5" x2="458.67" y2="402.5" stroke="#3a84c4" stroke-width="1.15"/>
<line x1="452.5" y1="367.4" x2="452.5" y2="402.5" stroke="#29507a" stroke-width="0.9"/>
<line x1="451.04" y1="367.4" x2="453.44" y2="367.4" stroke="#333" stroke-width="0.7"/>
<rect x="449.49" y="382" width="5.5" height="10.6" fill="#000"/>
<circle cx="452.24" cy="387.9" r="1.55" fill="#fff"/>
<line x1="503.5" y1="393" x2="503.5" y2="405.1" stroke="#3a84c4" stroke-width="1.15"/>
<line x1="497.35" y1="393" x2="510.21" y2="393" stroke="#3a84c4" stroke-width="1.15"/>
<line x1="497.35" y1="405.1" x2="510.21" y2="405.1" stroke="#3a84c4" stroke-width="1.15"/>
<line x1="503.5" y1="393" x2="503.5" y2="405.1" stroke="#29507a" stroke-width="0.9"/>
<rect x="501.03" y="400" width="5.5" height="5" fill="#000"/>
<circle cx="503.78" cy="402.5" r="1.75" fill="#fff" stroke="#000" stroke-width="1.25"/>
<line x1="555.5" y1="282.4" x2="555.5" y2="372.1" stroke="#3a84c4" stroke-width="1.15"/>
<line x1="548.89" y1="282.4" x2="561.75" y2="282.4" stroke="#3a84c4" stroke-width="1.15"/>
<line x1="548.89" y1="372.1" x2="561.75" y2="372.1" stroke="#3a84c4" stroke-width="1.15"/>
<line x1="555.5" y1="282.4" x2="555.5" y2="372.1" stroke="#29507a" stroke-width="0.9"/>
<rect x="552.57" y="317.2" width="5.5" height="28.7" fill="#000"/>
<circle cx="555.32" cy="331.9" r="1.55" fill="#fff"/>
<line x1="606.5" y1="237.7" x2="606.5" y2="328.4" stroke="#3a84c4" stroke-width="1.15"/>
<line x1="600.43" y1="237.7" x2="613.29" y2="237.7" stroke="#3a84c4" stroke-width="1.15"/>
<line x1="600.43" y1="328.4" x2="613.29" y2="328.4" stroke="#3a84c4" stroke-width="1.15"/>
<line x1="606.5" y1="237.7" x2="606.5" y2="328.4" stroke="#29507a" stroke-width="0.9"/>
<rect x="604.11" y="272.1" width="5.5" height="25.6" fill="#000"/>
<circle cx="606.86" cy="284.8" r="1.55" fill="#fff"/>
<line x1="651.97" y1="405.2" x2="664.83" y2="405.2" stroke="#3a84c4" stroke-width="1.15"/>
<circle cx="658.4" cy="405.2" r="1.75" fill="#fff" stroke="#000" stroke-width="1.25"/>
<path d="M375 229.4H683.5" stroke="#8c8c8c" stroke-width="1.1" fill="none"/>
<path d="M683.5 229.4V413.4" stroke="#8c8c8c" stroke-width="1.1" fill="none"/>
<path d="M375 229.4V413.4H684" stroke="#737373" stroke-width="1.1" fill="none"/>
<line x1="372.8" y1="405.4" x2="375" y2="405.4" stroke="#444" stroke-width="0.9"/>
<text class="tk" text-anchor="middle" transform="translate(370.11 407.7) scale(0.78 1)" x="0" y="0">0</text>
<line x1="372.8" y1="376.23" x2="375" y2="376.23" stroke="#444" stroke-width="0.9"/>
<text class="tk" text-anchor="middle" transform="translate(367.33 378.53) scale(0.78 1)" x="0 3.56" y="0">20</text>
<line x1="372.8" y1="347.07" x2="375" y2="347.07" stroke="#444" stroke-width="0.9"/>
<text class="tk" text-anchor="middle" transform="translate(367.33 349.37) scale(0.78 1)" x="0 3.56" y="0">40</text>
<line x1="372.8" y1="317.9" x2="375" y2="317.9" stroke="#444" stroke-width="0.9"/>
<text class="tk" text-anchor="middle" transform="translate(367.33 320.2) scale(0.78 1)" x="0 3.56" y="0">60</text>
<line x1="372.8" y1="288.74" x2="375" y2="288.74" stroke="#444" stroke-width="0.9"/>
<text class="tk" text-anchor="middle" transform="translate(367.33 291.04) scale(0.78 1)" x="0 3.56" y="0">80</text>
<line x1="372.8" y1="259.57" x2="375" y2="259.57" stroke="#444" stroke-width="0.9"/>
<text class="tk" text-anchor="middle" transform="translate(364.55 261.87) scale(0.78 1)" x="0 3.56 7.13" y="0">100</text>
<line x1="372.8" y1="230.4" x2="375" y2="230.4" stroke="#444" stroke-width="0.9"/>
<text class="tk" text-anchor="middle" transform="translate(364.55 232.7) scale(0.78 1)" x="0 3.56 7.13" y="0">120</text>
<line x1="400.7" y1="413.4" x2="400.7" y2="416.2" stroke="#5a5a5a" stroke-width="0.8"/>
<text class="tk" text-anchor="middle" transform="translate(399.31 421.6) scale(0.78 1)" x="0 3.56" y="0">MA</text>
<line x1="452.24" y1="413.4" x2="452.24" y2="416.2" stroke="#5a5a5a" stroke-width="0.8"/>
<text class="tk" text-anchor="middle" transform="translate(449.46 421.6) scale(0.78 1)" x="0 3.56 7.13" y="0">PSO</text>
<line x1="503.78" y1="413.4" x2="503.78" y2="416.2" stroke="#5a5a5a" stroke-width="0.8"/>
<text class="tk" text-anchor="middle" transform="translate(502.39 421.6) scale(0.78 1)" x="0 3.56" y="0">GA</text>
<line x1="555.32" y1="413.4" x2="555.32" y2="416.2" stroke="#5a5a5a" stroke-width="0.8"/>
<text class="tk" text-anchor="middle" transform="translate(553.93 421.6) scale(0.78 1)" x="0 3.56" y="0">FA</text>
<line x1="606.86" y1="413.4" x2="606.86" y2="416.2" stroke="#5a5a5a" stroke-width="0.8"/>
<text class="tk" text-anchor="middle" transform="translate(604.08 421.6) scale(0.78 1)" x="0 3.56 7.13" y="0">SCA</text>
<line x1="658.4" y1="413.4" x2="658.4" y2="416.2" stroke="#5a5a5a" stroke-width="0.8"/>
<text class="tk" text-anchor="middle" transform="translate(651.45 421.6) scale(0.78 1)" x="0 3.56 7.13 10.69 14.26 17.82" y="0">HSI-MA</text>
<g transform="translate(360 321.4) rotate(-90)">
<text class="yl" text-anchor="middle" transform="translate(-31.86 0) scale(1 1)" x="0 2.77 5.54 8.31 11.08 13.85 16.62 19.39 22.16 27.7 30.47 33.24 36.01 38.78 41.55 44.32 47.09 52.63 55.4 58.17 60.94 63.71" y="0">ObjectiveFunctionValue</text>
</g>
<text x="526.8" y="441.2" class="pl" text-anchor="middle">(d)</text>
</g>
<g id="pe">
<path d="M44.92 624.3 C45.12 625.15 45.17 628.2 46.12 629.4 C47.08 630.6 48.76 630.7 50.62 631.5 C52.49 632.3 57.16 633.37 57.33 634.2 C57.49 635.03 52.91 635.97 51.62 636.5 C50.34 637.03 49.96 637.25 49.62 637.4 L39.62 637.4 C39.29 637.25 38.91 637.03 37.62 636.5 C36.34 635.97 31.76 635.03 31.93 634.2 C32.09 633.37 36.76 632.3 38.62 631.5 C40.49 630.7 42.17 630.6 43.12 629.4 C44.08 628.2 44.12 625.15 44.33 624.3 Z" fill="#bcd6e9"/>
<path d="M96.38 593.4 C96.46 593.83 96.68 595.32 96.88 596 C97.08 596.68 96.98 596.52 97.58 597.5 C98.18 598.48 99.51 599.95 100.48 601.9 C101.44 603.85 102.19 606.77 103.38 609.2 C104.56 611.63 106.63 614.68 107.58 616.5 C108.53 618.32 109.08 618.88 109.08 620.1 C109.08 621.32 108.46 622.45 107.58 623.8 C106.69 625.15 104.69 627.1 103.78 628.2 C102.86 629.3 102.36 630.03 102.08 630.4 L90.08 630.4 C89.79 630.03 89.29 629.3 88.38 628.2 C87.46 627.1 85.46 625.15 84.58 623.8 C83.69 622.45 83.08 621.32 83.08 620.1 C83.08 618.88 83.63 618.32 84.58 616.5 C85.53 614.68 87.59 611.63 88.78 609.2 C89.96 606.77 90.71 603.85 91.68 601.9 C92.64 599.95 93.98 598.48 94.58 597.5 C95.18 596.52 95.08 596.68 95.28 596 C95.48 595.32 95.69 593.83 95.78 593.4 Z" fill="#bcd6e9"/>
<path d="M147.83 624.5 C147.98 624.85 148.34 626.02 148.73 626.6 C149.11 627.18 149.54 627.62 150.13 628 C150.71 628.38 151.08 628.48 152.23 628.9 C153.38 629.32 155.69 629.88 157.03 630.5 C158.36 631.12 159.99 631.9 160.23 632.6 C160.46 633.3 159.36 634.08 158.43 634.7 C157.49 635.32 155.53 635.85 154.63 636.3 C153.73 636.75 153.29 637.22 153.03 637.4 L142.03 637.4 C141.76 637.22 141.33 636.75 140.43 636.3 C139.53 635.85 137.56 635.32 136.63 634.7 C135.69 634.08 134.59 633.3 134.83 632.6 C135.06 631.9 136.69 631.12 138.03 630.5 C139.36 629.88 141.68 629.32 142.83 628.9 C143.98 628.48 144.34 628.38 144.93 628 C145.51 627.62 145.94 627.18 146.33 626.6 C146.71 626.02 147.08 624.85 147.23 624.5 Z" fill="#bcd6e9"/>
<path d="M199.98 511.2 C200.41 512.9 201.46 517.98 202.58 521.4 C203.69 524.82 205.31 528.28 206.68 531.7 C208.04 535.12 209.93 538.48 210.78 541.9 C211.63 545.32 211.86 548.78 211.78 552.2 C211.69 555.62 210.96 558.98 210.28 562.4 C209.59 565.82 208.54 569.28 207.68 572.7 C206.81 576.12 206.01 579.5 205.08 582.9 C204.14 586.3 202.93 589.68 202.08 593.1 C201.23 596.52 200.41 601.17 199.98 603.4 C199.54 605.63 199.56 605.98 199.48 606.5 L198.48 606.5 C198.39 605.98 198.41 605.63 197.98 603.4 C197.54 601.17 196.73 596.52 195.88 593.1 C195.03 589.68 193.81 586.3 192.88 582.9 C191.94 579.5 191.14 576.12 190.28 572.7 C189.41 569.28 188.36 565.82 187.68 562.4 C186.99 558.98 186.26 555.62 186.18 552.2 C186.09 548.78 186.33 545.32 187.18 541.9 C188.03 538.48 189.91 535.12 191.28 531.7 C192.64 528.28 194.26 524.82 195.38 521.4 C196.49 517.98 197.54 512.9 197.98 511.2 Z" fill="#bcd6e9"/>
<path d="M251.43 469.8 C252.03 471.58 253.58 477.02 255.03 480.5 C256.48 483.98 258.84 487.28 260.13 490.7 C261.41 494.12 262.24 498.43 262.73 501 C263.21 503.57 263.16 504.4 263.03 506.1 C262.89 507.8 262.58 508.65 261.93 511.2 C261.28 513.75 260.11 517.98 259.13 521.4 C258.14 524.82 257.23 528.28 256.03 531.7 C254.83 535.12 252.78 540.02 251.93 541.9 C251.08 543.78 251.09 542.82 250.93 543 L249.93 543 C249.76 542.82 249.78 543.78 248.93 541.9 C248.08 540.02 246.03 535.12 244.83 531.7 C243.63 528.28 242.71 524.82 241.73 521.4 C240.74 517.98 239.58 513.75 238.93 511.2 C238.28 508.65 237.96 507.8 237.83 506.1 C237.69 504.4 237.64 503.57 238.13 501 C238.61 498.43 239.44 494.12 240.73 490.7 C242.01 487.28 244.38 483.98 245.83 480.5 C247.28 477.02 248.83 471.58 249.43 469.8 Z" fill="#bcd6e9"/>
<line x1="44.5" y1="624.3" x2="44.5" y2="637.4" stroke="#3a84c4" stroke-width="1.15"/>
<line x1="38.19" y1="624.3" x2="51.06" y2="624.3" stroke="#3a84c4" stroke-width="1.15"/>
<line x1="38.19" y1="637.4" x2="51.06" y2="637.4" stroke="#3a84c4" stroke-width="1.15"/>
<line x1="44.5" y1="629.2" x2="44.5" y2="637.4" stroke="#29507a" stroke-width="0.9"/>
<line x1="43.42" y1="629.2" x2="45.83" y2="629.2" stroke="#333" stroke-width="0.7"/>
<rect x="41.88" y="632.2" width="5.5" height="3" fill="#000"/>
<circle cx="44.62" cy="633.6" r="1.75" fill="#fff" stroke="#000" stroke-width="1.25"/>
<line x1="96.5" y1="593.4" x2="96.5" y2="630.4" stroke="#3a84c4" stroke-width="1.15"/>
<line x1="89.64" y1="593.4" x2="102.51" y2="593.4" stroke="#3a84c4" stroke-width="1.15"/>
<line x1="89.64" y1="630.4" x2="102.51" y2="630.4" stroke="#3a84c4" stroke-width="1.15"/>
<line x1="96.5" y1="596.5" x2="96.5" y2="630.4" stroke="#29507a" stroke-width="0.9"/>
<line x1="94.88" y1="596.5" x2="97.28" y2="596.5" stroke="#333" stroke-width="0.7"/>
<rect x="93.33" y="611.8" width="5.5" height="12" fill="#000"/>
<circle cx="96.08" cy="618.7" r="1.55" fill="#fff"/>
<line x1="147.5" y1="624.5" x2="147.5" y2="637.4" stroke="#3a84c4" stroke-width="1.15"/>
<line x1="141.09" y1="624.5" x2="153.96" y2="624.5" stroke="#3a84c4" stroke-width="1.15"/>
<line x1="141.09" y1="637.4" x2="153.96" y2="637.4" stroke="#3a84c4" stroke-width="1.15"/>
<line x1="147.5" y1="626.6" x2="147.5" y2="637.4" stroke="#29507a" stroke-width="0.9"/>
<line x1="146.33" y1="626.6" x2="148.73" y2="626.6" stroke="#333" stroke-width="0.7"/>
<rect x="144.78" y="631.3" width="5.5" height="3.4" fill="#000"/>
<circle cx="147.53" cy="632.7" r="1.75" fill="#fff" stroke="#000" stroke-width="1.25"/>
<line x1="198.5" y1="511.2" x2="198.5" y2="606.5" stroke="#3a84c4" stroke-width="1.15"/>
<line x1="192.54" y1="511.2" x2="205.41" y2="511.2" stroke="#3a84c4" stroke-width="1.15"/>
<line x1="192.54" y1="606.5" x2="205.41" y2="606.5" stroke="#3a84c4" stroke-width="1.15"/>
<line x1="198.5" y1="511.2" x2="198.5" y2="606.5" stroke="#29507a" stroke-width="0.9"/>
<rect x="196.23" y="547" width="5.5" height="25.7" fill="#000"/>
<circle cx="198.98" cy="557.7" r="1.55" fill="#fff"/>
<line x1="250.5" y1="469.8" x2="250.5" y2="553.8" stroke="#3a84c4" stroke-width="1.15"/>
<line x1="243.99" y1="469.8" x2="256.86" y2="469.8" stroke="#3a84c4" stroke-width="1.15"/>
<line x1="243.99" y1="553.8" x2="256.86" y2="553.8" stroke="#3a84c4" stroke-width="1.15"/>
<line x1="250.5" y1="469.8" x2="250.5" y2="543" stroke="#29507a" stroke-width="0.9"/>
<line x1="249.23" y1="543" x2="251.63" y2="543" stroke="#333" stroke-width="0.7"/>
<rect x="247.68" y="498.5" width="5.5" height="21.3" fill="#000"/>
<circle cx="250.43" cy="507.5" r="1.55" fill="#fff"/>
<line x1="295.44" y1="637.4" x2="308.31" y2="637.4" stroke="#3a84c4" stroke-width="1.15"/>
<circle cx="301.88" cy="637.4" r="1.75" fill="#fff" stroke="#000" stroke-width="1.25"/>
<path d="M18.9 461.4H327.6" stroke="#8c8c8c" stroke-width="1.1" fill="none"/>
<path d="M327.6 461.4V645.5" stroke="#8c8c8c" stroke-width="1.1" fill="none"/>
<path d="M18.9 461.4V645.5H328.1" stroke="#737373" stroke-width="1.1" fill="none"/>
<line x1="16.7" y1="637.4" x2="18.9" y2="637.4" stroke="#444" stroke-width="0.9"/>
<text class="tk" text-anchor="middle" transform="translate(14.01 639.7) scale(0.78 1)" x="0" y="0">0</text>
<line x1="16.7" y1="615.27" x2="18.9" y2="615.27" stroke="#444" stroke-width="0.9"/>
<text class="tk" text-anchor="middle" transform="translate(11.23 617.57) scale(0.78 1)" x="0 3.56" y="0">20</text>
<line x1="16.7" y1="593.14" x2="18.9" y2="593.14" stroke="#444" stroke-width="0.9"/>
<text class="tk" text-anchor="middle" transform="translate(11.23 595.44) scale(0.78 1)" x="0 3.56" y="0">40</text>
<line x1="16.7" y1="571.02" x2="18.9" y2="571.02" stroke="#444" stroke-width="0.9"/>
<text class="tk" text-anchor="middle" transform="translate(11.23 573.32) scale(0.78 1)" x="0 3.56" y="0">60</text>
<line x1="16.7" y1="548.89" x2="18.9" y2="548.89" stroke="#444" stroke-width="0.9"/>
<text class="tk" text-anchor="middle" transform="translate(11.23 551.19) scale(0.78 1)" x="0 3.56" y="0">80</text>
<line x1="16.7" y1="526.76" x2="18.9" y2="526.76" stroke="#444" stroke-width="0.9"/>
<text class="tk" text-anchor="middle" transform="translate(8.45 529.06) scale(0.78 1)" x="0 3.56 7.13" y="0">100</text>
<line x1="16.7" y1="504.63" x2="18.9" y2="504.63" stroke="#444" stroke-width="0.9"/>
<text class="tk" text-anchor="middle" transform="translate(8.45 506.93) scale(0.78 1)" x="0 3.56 7.13" y="0">120</text>
<line x1="16.7" y1="482.5" x2="18.9" y2="482.5" stroke="#444" stroke-width="0.9"/>
<text class="tk" text-anchor="middle" transform="translate(8.45 484.8) scale(0.78 1)" x="0 3.56 7.13" y="0">140</text>
<line x1="44.62" y1="645.5" x2="44.62" y2="648.3" stroke="#5a5a5a" stroke-width="0.8"/>
<text class="tk" text-anchor="middle" transform="translate(43.23 653.7) scale(0.78 1)" x="0 3.56" y="0">MA</text>
<line x1="96.08" y1="645.5" x2="96.08" y2="648.3" stroke="#5a5a5a" stroke-width="0.8"/>
<text class="tk" text-anchor="middle" transform="translate(93.3 653.7) scale(0.78 1)" x="0 3.56 7.13" y="0">PSO</text>
<line x1="147.53" y1="645.5" x2="147.53" y2="648.3" stroke="#5a5a5a" stroke-width="0.8"/>
<text class="tk" text-anchor="middle" transform="translate(146.14 653.7) scale(0.78 1)" x="0 3.56" y="0">GA</text>
<line x1="198.98" y1="645.5" x2="198.98" y2="648.3" stroke="#5a5a5a" stroke-width="0.8"/>
<text class="tk" text-anchor="middle" transform="translate(197.59 653.7) scale(0.78 1)" x="0 3.56" y="0">FA</text>
<line x1="250.43" y1="645.5" x2="250.43" y2="648.3" stroke="#5a5a5a" stroke-width="0.8"/>
<text class="tk" text-anchor="middle" transform="translate(247.65 653.7) scale(0.78 1)" x="0 3.56 7.13" y="0">SCA</text>
<line x1="301.88" y1="645.5" x2="301.88" y2="648.3" stroke="#5a5a5a" stroke-width="0.8"/>
<text class="tk" text-anchor="middle" transform="translate(294.93 653.7) scale(0.78 1)" x="0 3.56 7.13 10.69 14.26 17.82" y="0">HSI-MA</text>
<g transform="translate(4.2 553.45) rotate(-90)">
<text class="yl" text-anchor="middle" transform="translate(-31.86 0) scale(1 1)" x="0 2.77 5.54 8.31 11.08 13.85 16.62 19.39 22.16 27.7 30.47 33.24 36.01 38.78 41.55 44.32 47.09 52.63 55.4 58.17 60.94 63.71" y="0">ObjectiveFunctionValue</text>
</g>
<text x="180.3" y="669.4" class="pl" text-anchor="middle">(e)</text>
</g>
<g id="pf">
<path d="M396.03 615.5 C396.08 615.92 396.15 616.92 396.33 618 C396.52 619.08 396.72 620.7 397.13 622 C397.55 623.3 398 624.9 398.83 625.8 C399.67 626.7 400.73 626.63 402.13 627.4 C403.53 628.17 406.15 629.6 407.23 630.4 C408.32 631.2 408.85 631.52 408.63 632.2 C408.42 632.88 406.93 633.77 405.93 634.5 C404.93 635.23 403.33 636.13 402.63 636.6 C401.93 637.07 401.88 637.18 401.73 637.3 L389.73 637.3 C389.58 637.18 389.53 637.07 388.83 636.6 C388.13 636.13 386.53 635.23 385.53 634.5 C384.53 633.77 383.05 632.88 382.83 632.2 C382.62 631.52 383.15 631.2 384.23 630.4 C385.32 629.6 387.93 628.17 389.33 627.4 C390.73 626.63 391.8 626.7 392.63 625.8 C393.47 624.9 393.92 623.3 394.33 622 C394.75 620.7 394.95 619.08 395.13 618 C395.32 616.92 395.38 615.92 395.43 615.5 Z" fill="#bcd6e9"/>
<path d="M447.4 582.8 C447.53 584.42 447.67 590.08 448.2 592.5 C448.73 594.92 449.88 595.65 450.6 597.3 C451.32 598.95 451.7 600.8 452.5 602.4 C453.3 604 454.75 605.62 455.4 606.9 C456.05 608.18 456.18 609.03 456.4 610.1 C456.62 611.17 456.37 612.02 456.7 613.3 C457.03 614.58 457.83 616.4 458.4 617.8 C458.97 619.2 460.15 620.52 460.1 621.7 C460.05 622.88 459.13 623.83 458.1 624.9 C457.07 625.97 455.28 627.13 453.9 628.1 C452.52 629.07 450.67 630.15 449.8 630.7 C448.93 631.25 448.88 631.28 448.7 631.4 L445.7 631.4 C445.52 631.28 445.47 631.25 444.6 630.7 C443.73 630.15 441.88 629.07 440.5 628.1 C439.12 627.13 437.33 625.97 436.3 624.9 C435.27 623.83 434.35 622.88 434.3 621.7 C434.25 620.52 435.43 619.2 436 617.8 C436.57 616.4 437.37 614.58 437.7 613.3 C438.03 612.02 437.78 611.17 438 610.1 C438.22 609.03 438.35 608.18 439 606.9 C439.65 605.62 441.1 604 441.9 602.4 C442.7 600.8 443.08 598.95 443.8 597.3 C444.52 595.65 445.67 594.92 446.2 592.5 C446.73 590.08 446.87 584.42 447 582.8 Z" fill="#bcd6e9"/>
<path d="M498.97 608.4 C499.17 609.45 499.62 613.13 500.17 614.7 C500.72 616.27 501.07 616.77 502.27 617.8 C503.47 618.83 506 619.88 507.37 620.9 C508.73 621.92 509.75 622.97 510.47 623.9 C511.18 624.83 511.72 625.65 511.67 626.5 C511.62 627.35 511.13 628.15 510.17 629 C509.2 629.85 506.78 630.95 505.87 631.6 C504.95 632.25 504.87 632.68 504.67 632.9 L492.67 632.9 C492.47 632.68 492.38 632.25 491.47 631.6 C490.55 630.95 488.13 629.85 487.17 629 C486.2 628.15 485.72 627.35 485.67 626.5 C485.62 625.65 486.15 624.83 486.87 623.9 C487.58 622.97 488.6 621.92 489.97 620.9 C491.33 619.88 493.87 618.83 495.07 617.8 C496.27 616.77 496.62 616.27 497.17 614.7 C497.72 613.13 498.17 609.45 498.37 608.4 Z" fill="#bcd6e9"/>
<path d="M551.13 514.3 C551.43 515.48 551.98 518.5 552.93 521.4 C553.88 524.3 555.5 528.28 556.83 531.7 C558.17 535.12 559.97 538.83 560.93 541.9 C561.9 544.97 562.7 547.37 562.63 550.1 C562.57 552.83 561.47 555.22 560.53 558.3 C559.6 561.38 558.25 565.18 557.03 568.6 C555.82 572.02 554.22 575.4 553.23 578.8 C552.25 582.2 551.53 587.12 551.13 589 C550.73 590.88 550.88 589.92 550.83 590.1 L549.43 590.1 C549.38 589.92 549.53 590.88 549.13 589 C548.73 587.12 548.02 582.2 547.03 578.8 C546.05 575.4 544.45 572.02 543.23 568.6 C542.02 565.18 540.67 561.38 539.73 558.3 C538.8 555.22 537.7 552.83 537.63 550.1 C537.57 547.37 538.37 544.97 539.33 541.9 C540.3 538.83 542.1 535.12 543.43 531.7 C544.77 528.28 546.38 524.3 547.33 521.4 C548.28 518.5 548.83 515.48 549.13 514.3 Z" fill="#bcd6e9"/>
<path d="M604.6 469.8 C604.77 470.22 604.73 471.2 605.6 472.3 C606.47 473.4 608.58 474.35 609.8 476.4 C611.02 478.45 612.15 481.53 612.9 484.6 C613.65 487.67 614.3 491.38 614.3 494.8 C614.3 498.22 613.82 502.02 612.9 505.1 C611.98 508.18 610.17 510.92 608.8 513.3 C607.43 515.68 605.82 517.53 604.7 519.4 C603.58 521.27 602.53 523.65 602.1 524.5 L601.1 524.5 C600.67 523.65 599.62 521.27 598.5 519.4 C597.38 517.53 595.77 515.68 594.4 513.3 C593.03 510.92 591.22 508.18 590.3 505.1 C589.38 502.02 588.9 498.22 588.9 494.8 C588.9 491.38 589.55 487.67 590.3 484.6 C591.05 481.53 592.18 478.45 593.4 476.4 C594.62 474.35 596.73 473.4 597.6 472.3 C598.47 471.2 598.43 470.22 598.6 469.8 Z" fill="#bcd6e9"/>
<line x1="395.5" y1="615.5" x2="395.5" y2="637.3" stroke="#3a84c4" stroke-width="1.15"/>
<line x1="389.3" y1="615.5" x2="402.17" y2="615.5" stroke="#3a84c4" stroke-width="1.15"/>
<line x1="389.3" y1="637.3" x2="402.17" y2="637.3" stroke="#3a84c4" stroke-width="1.15"/>
<line x1="395.5" y1="622.1" x2="395.5" y2="637.3" stroke="#29507a" stroke-width="0.9"/>
<line x1="394.53" y1="622.1" x2="396.93" y2="622.1" stroke="#333" stroke-width="0.7"/>
<rect x="392.98" y="629.2" width="5.5" height="4.6" fill="#000"/>
<circle cx="395.73" cy="631.6" r="1.75" fill="#fff" stroke="#000" stroke-width="1.25"/>
<line x1="447.5" y1="582.8" x2="447.5" y2="631.6" stroke="#3a84c4" stroke-width="1.15"/>
<line x1="440.77" y1="582.8" x2="453.63" y2="582.8" stroke="#3a84c4" stroke-width="1.15"/>
<line x1="440.77" y1="631.6" x2="453.63" y2="631.6" stroke="#3a84c4" stroke-width="1.15"/>
<line x1="447.5" y1="592.3" x2="447.5" y2="631.2" stroke="#29507a" stroke-width="0.9"/>
<line x1="446" y1="592.3" x2="448.4" y2="592.3" stroke="#333" stroke-width="0.7"/>
<rect x="444.45" y="609.8" width="5.5" height="12.9" fill="#000"/>
<circle cx="447.2" cy="616.1" r="1.55" fill="#fff"/>
<line x1="498.5" y1="608.4" x2="498.5" y2="632.9" stroke="#3a84c4" stroke-width="1.15"/>
<line x1="492.23" y1="608.4" x2="505.1" y2="608.4" stroke="#3a84c4" stroke-width="1.15"/>
<line x1="492.23" y1="632.9" x2="505.1" y2="632.9" stroke="#3a84c4" stroke-width="1.15"/>
<line x1="498.5" y1="614.4" x2="498.5" y2="632.9" stroke="#29507a" stroke-width="0.9"/>
<line x1="497.47" y1="614.4" x2="499.87" y2="614.4" stroke="#333" stroke-width="0.7"/>
<rect x="495.92" y="623.1" width="5.5" height="5.9" fill="#000"/>
<circle cx="498.67" cy="626.3" r="1.75" fill="#fff" stroke="#000" stroke-width="1.25"/>
<line x1="550.5" y1="514.3" x2="550.5" y2="590.1" stroke="#3a84c4" stroke-width="1.15"/>
<line x1="543.7" y1="514.3" x2="556.57" y2="514.3" stroke="#3a84c4" stroke-width="1.15"/>
<line x1="543.7" y1="590.1" x2="556.57" y2="590.1" stroke="#3a84c4" stroke-width="1.15"/>
<line x1="550.5" y1="514.3" x2="550.5" y2="590.1" stroke="#29507a" stroke-width="0.9"/>
<rect x="547.38" y="541.9" width="5.5" height="21.5" fill="#000"/>
<circle cx="550.13" cy="550.5" r="1.55" fill="#fff"/>
<line x1="601.5" y1="469.8" x2="601.5" y2="545.6" stroke="#3a84c4" stroke-width="1.15"/>
<line x1="595.17" y1="469.8" x2="608.03" y2="469.8" stroke="#3a84c4" stroke-width="1.15"/>
<line x1="595.17" y1="545.6" x2="608.03" y2="545.6" stroke="#3a84c4" stroke-width="1.15"/>
<line x1="601.5" y1="469.8" x2="601.5" y2="524.5" stroke="#29507a" stroke-width="0.9"/>
<line x1="600.4" y1="524.5" x2="602.8" y2="524.5" stroke="#333" stroke-width="0.7"/>
<rect x="598.85" y="486.6" width="5.5" height="17" fill="#000"/>
<circle cx="601.6" cy="495.4" r="1.55" fill="#fff"/>
<line x1="646.63" y1="637.3" x2="659.5" y2="637.3" stroke="#3a84c4" stroke-width="1.15"/>
<circle cx="653.07" cy="637.3" r="1.75" fill="#fff" stroke="#000" stroke-width="1.25"/>
<path d="M370 461.4H678.8" stroke="#8c8c8c" stroke-width="1.1" fill="none"/>
<path d="M678.8 461.4V645.4" stroke="#8c8c8c" stroke-width="1.1" fill="none"/>
<path d="M370 461.4V645.4H679.3" stroke="#737373" stroke-width="1.1" fill="none"/>
<line x1="367.8" y1="637.4" x2="370" y2="637.4" stroke="#444" stroke-width="0.9"/>
<text class="tk" text-anchor="middle" transform="translate(365.11 639.7) scale(0.78 1)" x="0" y="0">0</text>
<line x1="367.8" y1="600.65" x2="370" y2="600.65" stroke="#444" stroke-width="0.9"/>
<text class="tk" text-anchor="middle" transform="translate(362.33 602.95) scale(0.78 1)" x="0 3.56" y="0">50</text>
<line x1="367.8" y1="563.9" x2="370" y2="563.9" stroke="#444" stroke-width="0.9"/>
<text class="tk" text-anchor="middle" transform="translate(359.55 566.2) scale(0.78 1)" x="0 3.56 7.13" y="0">100</text>
<line x1="367.8" y1="527.15" x2="370" y2="527.15" stroke="#444" stroke-width="0.9"/>
<text class="tk" text-anchor="middle" transform="translate(359.55 529.45) scale(0.78 1)" x="0 3.56 7.13" y="0">150</text>
<line x1="367.8" y1="490.4" x2="370" y2="490.4" stroke="#444" stroke-width="0.9"/>
<text class="tk" text-anchor="middle" transform="translate(359.55 492.7) scale(0.78 1)" x="0 3.56 7.13" y="0">200</text>
<line x1="395.73" y1="645.4" x2="395.73" y2="648.2" stroke="#5a5a5a" stroke-width="0.8"/>
<text class="tk" text-anchor="middle" transform="translate(394.34 653.6) scale(0.78 1)" x="0 3.56" y="0">MA</text>
<line x1="447.2" y1="645.4" x2="447.2" y2="648.2" stroke="#5a5a5a" stroke-width="0.8"/>
<text class="tk" text-anchor="middle" transform="translate(444.42 653.6) scale(0.78 1)" x="0 3.56 7.13" y="0">PSO</text>
<line x1="498.67" y1="645.4" x2="498.67" y2="648.2" stroke="#5a5a5a" stroke-width="0.8"/>
<text class="tk" text-anchor="middle" transform="translate(497.28 653.6) scale(0.78 1)" x="0 3.56" y="0">GA</text>
<line x1="550.13" y1="645.4" x2="550.13" y2="648.2" stroke="#5a5a5a" stroke-width="0.8"/>
<text class="tk" text-anchor="middle" transform="translate(548.74 653.6) scale(0.78 1)" x="0 3.56" y="0">FA</text>
<line x1="601.6" y1="645.4" x2="601.6" y2="648.2" stroke="#5a5a5a" stroke-width="0.8"/>
<text class="tk" text-anchor="middle" transform="translate(598.82 653.6) scale(0.78 1)" x="0 3.56 7.13" y="0">SCA</text>
<line x1="653.07" y1="645.4" x2="653.07" y2="648.2" stroke="#5a5a5a" stroke-width="0.8"/>
<text class="tk" text-anchor="middle" transform="translate(646.12 653.6) scale(0.78 1)" x="0 3.56 7.13 10.69 14.26 17.82" y="0">HSI-MA</text>
<g transform="translate(354.2 553.4) rotate(-90)">
<text class="yl" text-anchor="middle" transform="translate(-31.86 0) scale(1 1)" x="0 2.77 5.54 8.31 11.08 13.85 16.62 19.39 22.16 27.7 30.47 33.24 36.01 38.78 41.55 44.32 47.09 52.63 55.4 58.17 60.94 63.71" y="0">ObjectiveFunctionValue</text>
</g>
<text x="525" y="669.4" class="pl" text-anchor="middle">(f)</text>
</g>
<g id="pg">
<path d="M196.45 836.7 C196.53 837.25 196.67 838.95 196.95 840 C197.23 841.05 197.6 841.58 198.15 843 C198.7 844.42 199.08 846.63 200.25 848.5 C201.42 850.37 203.7 852.4 205.15 854.2 C206.6 856 208.87 857.88 208.95 859.3 C209.03 860.72 206.95 861.78 205.65 862.7 C204.35 863.62 201.9 864.45 201.15 864.8 L191.15 864.8 C190.4 864.45 187.95 863.62 186.65 862.7 C185.35 861.78 183.27 860.72 183.35 859.3 C183.43 857.88 185.7 856 187.15 854.2 C188.6 852.4 190.88 850.37 192.05 848.5 C193.22 846.63 193.6 844.42 194.15 843 C194.7 841.58 195.07 841.05 195.35 840 C195.63 838.95 195.77 837.25 195.85 836.7 Z" fill="#bcd6e9"/>
<path d="M249.08 823.8 C249.43 824.17 250.45 825.27 251.18 826 C251.91 826.73 252.51 827.15 253.48 828.2 C254.45 829.25 256.08 831 256.98 832.3 C257.88 833.6 258.45 834.65 258.88 836 C259.31 837.35 259.48 839.23 259.58 840.4 C259.68 841.57 259.4 841.97 259.48 843 C259.56 844.03 260.53 845.32 260.08 846.6 C259.63 847.88 258.01 849.52 256.78 850.7 C255.55 851.88 253.55 852.97 252.68 853.7 C251.81 854.43 251.76 854.87 251.58 855.1 L243.58 855.1 C243.4 854.87 243.35 854.43 242.48 853.7 C241.61 852.97 239.61 851.88 238.38 850.7 C237.15 849.52 235.53 847.88 235.08 846.6 C234.63 845.32 235.6 844.03 235.68 843 C235.76 841.97 235.48 841.57 235.58 840.4 C235.68 839.23 235.85 837.35 236.28 836 C236.71 834.65 237.28 833.6 238.18 832.3 C239.08 831 240.71 829.25 241.68 828.2 C242.65 827.15 243.25 826.73 243.98 826 C244.71 825.27 245.73 824.17 246.08 823.8 Z" fill="#bcd6e9"/>
<path d="M299.31 828.2 C299.46 828.53 299.96 829.32 300.21 830.2 C300.46 831.08 300.58 832.48 300.81 833.5 C301.04 834.52 300.83 835.15 301.61 836.3 C302.39 837.45 304.24 839.03 305.51 840.4 C306.78 841.77 308.21 843.3 309.21 844.5 C310.21 845.7 311.63 846.23 311.51 847.6 C311.39 848.97 309.74 851.17 308.51 852.7 C307.28 854.23 305.11 855.7 304.11 856.8 C303.11 857.9 302.78 858.88 302.51 859.3 L295.51 859.3 C295.24 858.88 294.91 857.9 293.91 856.8 C292.91 855.7 290.74 854.23 289.51 852.7 C288.28 851.17 286.63 848.97 286.51 847.6 C286.39 846.23 287.81 845.7 288.81 844.5 C289.81 843.3 291.24 841.77 292.51 840.4 C293.78 839.03 295.63 837.45 296.41 836.3 C297.19 835.15 296.98 834.52 297.21 833.5 C297.44 832.48 297.56 831.08 297.81 830.2 C298.06 829.32 298.56 828.53 298.71 828.2 Z" fill="#bcd6e9"/>
<path d="M350.74 732.1 C350.86 732.97 351.06 734.85 351.44 737.3 C351.82 739.75 351.89 743.47 353.04 746.8 C354.19 750.13 356.79 753.8 358.34 757.3 C359.89 760.8 361.47 765.17 362.34 767.8 C363.21 770.43 363.89 770.98 363.54 773.1 C363.19 775.22 361.46 777.87 360.24 780.5 C359.02 783.13 357.61 786.1 356.24 788.9 C354.87 791.7 352.92 795.38 352.04 797.3 C351.16 799.22 351.12 799.88 350.94 800.4 L349.94 800.4 C349.76 799.88 349.72 799.22 348.84 797.3 C347.96 795.38 346.01 791.7 344.64 788.9 C343.27 786.1 341.86 783.13 340.64 780.5 C339.42 777.87 337.69 775.22 337.34 773.1 C336.99 770.98 337.67 770.43 338.54 767.8 C339.41 765.17 340.99 760.8 342.54 757.3 C344.09 753.8 346.69 750.13 347.84 746.8 C348.99 743.47 349.06 739.75 349.44 737.3 C349.82 734.85 350.02 732.97 350.14 732.1 Z" fill="#bcd6e9"/>
<path d="M402.87 698.4 C403.04 698.58 402.99 698.1 403.87 699.5 C404.75 700.9 406.35 703.47 408.17 706.8 C409.99 710.13 414.24 715.98 414.77 719.5 C415.3 723.02 412.69 724.75 411.37 727.9 C410.05 731.05 408.19 734.9 406.87 738.4 C405.55 741.9 404.22 746.27 403.47 748.9 C402.72 751.53 402.55 753.32 402.37 754.2 L401.37 754.2 C401.19 753.32 401.02 751.53 400.27 748.9 C399.52 746.27 398.19 741.9 396.87 738.4 C395.55 734.9 393.69 731.05 392.37 727.9 C391.05 724.75 388.44 723.02 388.97 719.5 C389.5 715.98 393.75 710.13 395.57 706.8 C397.39 703.47 398.99 700.9 399.87 699.5 C400.75 698.1 400.7 698.58 400.87 698.4 Z" fill="#bcd6e9"/>
<path d="M453.6 833.6 C453.72 834.23 453.33 835.37 454.3 837.4 C455.27 839.43 457.5 843 459.4 845.8 C461.3 848.6 465.48 851.75 465.7 854.2 C465.92 856.65 462.27 858.75 460.7 860.5 C459.13 862.25 457.12 863.88 456.3 864.7 C455.48 865.52 455.88 865.28 455.8 865.4 L450.8 865.4 C450.72 865.28 451.12 865.52 450.3 864.7 C449.48 863.88 447.47 862.25 445.9 860.5 C444.33 858.75 440.68 856.65 440.9 854.2 C441.12 851.75 445.3 848.6 447.2 845.8 C449.1 843 451.33 839.43 452.3 837.4 C453.27 835.37 452.88 834.23 453 833.6 Z" fill="#bcd6e9"/>
<line x1="196.5" y1="836.7" x2="196.5" y2="864.8" stroke="#3a84c4" stroke-width="1.15"/>
<line x1="189.71" y1="836.7" x2="202.59" y2="836.7" stroke="#3a84c4" stroke-width="1.15"/>
<line x1="189.71" y1="864.8" x2="202.59" y2="864.8" stroke="#3a84c4" stroke-width="1.15"/>
<line x1="196.5" y1="843.1" x2="196.5" y2="864.8" stroke="#29507a" stroke-width="0.9"/>
<line x1="194.95" y1="843.1" x2="197.35" y2="843.1" stroke="#333" stroke-width="0.7"/>
<rect x="193.4" y="853.6" width="5.5" height="6.8" fill="#000"/>
<circle cx="196.15" cy="858" r="1.55" fill="#fff"/>
<line x1="247.5" y1="823.8" x2="247.5" y2="855.1" stroke="#3a84c4" stroke-width="1.15"/>
<line x1="241.14" y1="823.8" x2="254.02" y2="823.8" stroke="#3a84c4" stroke-width="1.15"/>
<line x1="241.14" y1="855.1" x2="254.02" y2="855.1" stroke="#3a84c4" stroke-width="1.15"/>
<line x1="247.5" y1="823.8" x2="247.5" y2="855.1" stroke="#29507a" stroke-width="0.9"/>
<rect x="244.83" y="838" width="5.5" height="10.8" fill="#000"/>
<circle cx="247.58" cy="844.3" r="1.55" fill="#fff"/>
<line x1="299.5" y1="828.2" x2="299.5" y2="859.3" stroke="#3a84c4" stroke-width="1.15"/>
<line x1="292.57" y1="828.2" x2="305.45" y2="828.2" stroke="#3a84c4" stroke-width="1.15"/>
<line x1="292.57" y1="859.3" x2="305.45" y2="859.3" stroke="#3a84c4" stroke-width="1.15"/>
<line x1="299.5" y1="829.9" x2="299.5" y2="859.3" stroke="#29507a" stroke-width="0.9"/>
<rect x="296.26" y="842.9" width="5.5" height="9.1" fill="#000"/>
<circle cx="299.01" cy="847.3" r="1.55" fill="#fff"/>
<line x1="350.5" y1="732.1" x2="350.5" y2="800.4" stroke="#3a84c4" stroke-width="1.15"/>
<line x1="344" y1="732.1" x2="356.88" y2="732.1" stroke="#3a84c4" stroke-width="1.15"/>
<line x1="344" y1="800.4" x2="356.88" y2="800.4" stroke="#3a84c4" stroke-width="1.15"/>
<line x1="350.5" y1="737.3" x2="350.5" y2="800.4" stroke="#29507a" stroke-width="0.9"/>
<line x1="349.24" y1="737.3" x2="351.64" y2="737.3" stroke="#333" stroke-width="0.7"/>
<rect x="347.69" y="761.9" width="5.5" height="17.5" fill="#000"/>
<circle cx="350.44" cy="771.6" r="1.55" fill="#fff"/>
<line x1="401.5" y1="698.4" x2="401.5" y2="762.2" stroke="#3a84c4" stroke-width="1.15"/>
<line x1="395.43" y1="698.4" x2="408.31" y2="698.4" stroke="#3a84c4" stroke-width="1.15"/>
<line x1="395.43" y1="762.2" x2="408.31" y2="762.2" stroke="#3a84c4" stroke-width="1.15"/>
<line x1="401.5" y1="698.4" x2="401.5" y2="754.2" stroke="#29507a" stroke-width="0.9"/>
<line x1="400.67" y1="754.2" x2="403.07" y2="754.2" stroke="#333" stroke-width="0.7"/>
<rect x="399.12" y="714.8" width="5.5" height="16.9" fill="#000"/>
<circle cx="401.87" cy="721.6" r="1.55" fill="#fff"/>
<line x1="453.5" y1="833.6" x2="453.5" y2="865.4" stroke="#3a84c4" stroke-width="1.15"/>
<line x1="446.86" y1="833.6" x2="459.74" y2="833.6" stroke="#3a84c4" stroke-width="1.15"/>
<line x1="446.86" y1="865.4" x2="459.74" y2="865.4" stroke="#3a84c4" stroke-width="1.15"/>
<line x1="453.5" y1="837.4" x2="453.5" y2="865.4" stroke="#29507a" stroke-width="0.9"/>
<line x1="452.1" y1="837.4" x2="454.5" y2="837.4" stroke="#333" stroke-width="0.7"/>
<rect x="450.55" y="848.3" width="5.5" height="9.5" fill="#000"/>
<circle cx="453.3" cy="854.2" r="1.55" fill="#fff"/>
<path d="M170.4 689.9H479.4" stroke="#8c8c8c" stroke-width="1.1" fill="none"/>
<path d="M479.4 689.9V873.5" stroke="#8c8c8c" stroke-width="1.1" fill="none"/>
<path d="M170.4 689.9V873.5H479.9" stroke="#737373" stroke-width="1.1" fill="none"/>
<line x1="168.2" y1="866.5" x2="170.4" y2="866.5" stroke="#444" stroke-width="0.9"/>
<text class="tk" text-anchor="middle" transform="translate(165.51 868.8) scale(0.78 1)" x="0" y="0">0</text>
<line x1="168.2" y1="840" x2="170.4" y2="840" stroke="#444" stroke-width="0.9"/>
<text class="tk" text-anchor="middle" transform="translate(162.73 842.3) scale(0.78 1)" x="0 3.56" y="0">50</text>
<line x1="168.2" y1="813.5" x2="170.4" y2="813.5" stroke="#444" stroke-width="0.9"/>
<text class="tk" text-anchor="middle" transform="translate(159.95 815.8) scale(0.78 1)" x="0 3.56 7.13" y="0">100</text>
<line x1="168.2" y1="787" x2="170.4" y2="787" stroke="#444" stroke-width="0.9"/>
<text class="tk" text-anchor="middle" transform="translate(159.95 789.3) scale(0.78 1)" x="0 3.56 7.13" y="0">150</text>
<line x1="168.2" y1="760.5" x2="170.4" y2="760.5" stroke="#444" stroke-width="0.9"/>
<text class="tk" text-anchor="middle" transform="translate(159.95 762.8) scale(0.78 1)" x="0 3.56 7.13" y="0">200</text>
<line x1="168.2" y1="734" x2="170.4" y2="734" stroke="#444" stroke-width="0.9"/>
<text class="tk" text-anchor="middle" transform="translate(159.95 736.3) scale(0.78 1)" x="0 3.56 7.13" y="0">250</text>
<line x1="168.2" y1="707.5" x2="170.4" y2="707.5" stroke="#444" stroke-width="0.9"/>
<text class="tk" text-anchor="middle" transform="translate(159.95 709.8) scale(0.78 1)" x="0 3.56 7.13" y="0">300</text>
<line x1="196.15" y1="873.5" x2="196.15" y2="876.3" stroke="#5a5a5a" stroke-width="0.8"/>
<text class="tk" text-anchor="middle" transform="translate(194.76 881.7) scale(0.78 1)" x="0 3.56" y="0">MA</text>
<line x1="247.58" y1="873.5" x2="247.58" y2="876.3" stroke="#5a5a5a" stroke-width="0.8"/>
<text class="tk" text-anchor="middle" transform="translate(244.8 881.7) scale(0.78 1)" x="0 3.56 7.13" y="0">PSO</text>
<line x1="299.01" y1="873.5" x2="299.01" y2="876.3" stroke="#5a5a5a" stroke-width="0.8"/>
<text class="tk" text-anchor="middle" transform="translate(297.62 881.7) scale(0.78 1)" x="0 3.56" y="0">GA</text>
<line x1="350.44" y1="873.5" x2="350.44" y2="876.3" stroke="#5a5a5a" stroke-width="0.8"/>
<text class="tk" text-anchor="middle" transform="translate(349.05 881.7) scale(0.78 1)" x="0 3.56" y="0">FA</text>
<line x1="401.87" y1="873.5" x2="401.87" y2="876.3" stroke="#5a5a5a" stroke-width="0.8"/>
<text class="tk" text-anchor="middle" transform="translate(399.09 881.7) scale(0.78 1)" x="0 3.56 7.13" y="0">SCA</text>
<line x1="453.3" y1="873.5" x2="453.3" y2="876.3" stroke="#5a5a5a" stroke-width="0.8"/>
<text class="tk" text-anchor="middle" transform="translate(446.35 881.7) scale(0.78 1)" x="0 3.56 7.13 10.69 14.26 17.82" y="0">HSI-MA</text>
<g transform="translate(155 781.7) rotate(-90)">
<text class="yl" text-anchor="middle" transform="translate(-31.86 0) scale(1 1)" x="0 2.77 5.54 8.31 11.08 13.85 16.62 19.39 22.16 27.7 30.47 33.24 36.01 38.78 41.55 44.32 47.09 52.63 55.4 58.17 60.94 63.71" y="0">ObjectiveFunctionValue</text>
</g>
<text x="324.9" y="898" class="pl" text-anchor="middle">(e)</text>
</g>
</svg>
</body></html>
